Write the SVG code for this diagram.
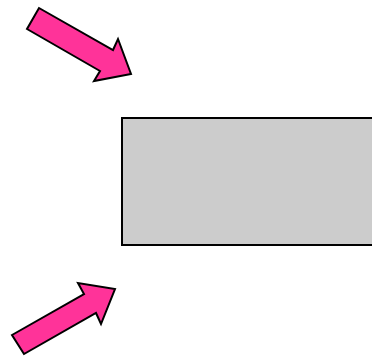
<svg xmlns="http://www.w3.org/2000/svg" width="372" height="356" viewBox="0 0 372 356">
<style>
.arrow{fill:#ff3399;stroke:#000;stroke-width:2;stroke-linejoin:miter}
.box{fill:#cccccc;stroke:#000;stroke-width:2}
</style>
<rect width="372" height="356" fill="#fff"/>
<g id="box"><rect class="box" x="122" y="118" width="260" height="127"/></g>
<g id="connectors">
<g id="arrow-top"><polygon class="arrow" points="39,8 113,50 118,39 131,74 94,81 100,71 27,29"/></g>
<g id="arrow-bottom"><polygon class="arrow" points="12,335 84,294 78,283 115,289 101,324 96,313 24,354"/></g>
</g>
</svg>
